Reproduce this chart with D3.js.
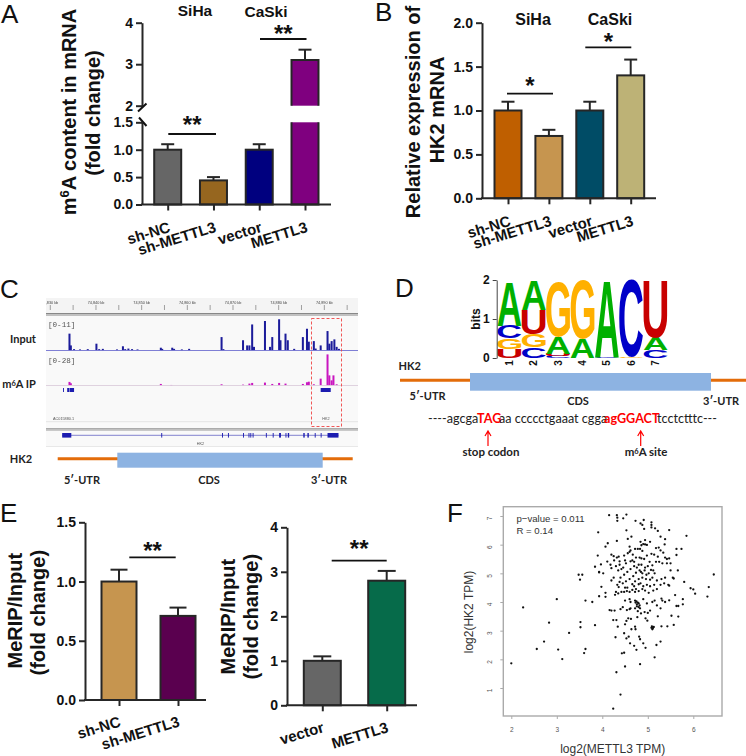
<!DOCTYPE html>
<html><head><meta charset="utf-8">
<style>html,body{margin:0;padding:0;background:#fff}svg{display:block}</style>
<script src="https://cdn.jsdelivr.net/npm/d3@7"></script></head><body>
<svg id="c" width="746" height="756"></svg>
<script>
// ---- bar data ----
const catsSiCa=["sh-NC","sh-METTL3","vector","METTL3"];
const valuesA=[1.0,0.44,1.0,3.1], errorsA=[1.1,0.5,1.1,3.35];
const colorsA=["#666666","#96661f","#00007f","#7f007f"];
const valuesB=[1.0,0.71,1.0,1.4], errorsB=[1.1,0.78,1.1,1.58];
const colorsB=["#bf5f00","#c6954f","#004c66","#bdb276"];
const catsE1=["sh-NC","sh-METTL3"], valuesE1=[1.0,0.71], errorsE1=[1.1,0.78], colorsE1=["#c6954f","#5a004f"];
const catsE2=["vector","METTL3"], valuesE2=[1.0,2.8], errorsE2=[1.1,3.02], colorsE2=["#666666","#066b4a"];
// ---- IGV tracks: kb offset from 74,830 kb, signal value ----
const rulerKb=[74840,74850,74860,74870,74880,74890];
const inputPos=[4.2,4.5,5.2,6.5,8.2,10.1,10.7,11.5,14.6,15.9,16.4,17.1,17.9,19.1,24.2,24.5,26.7,27.1,28.8,30.4,37.5,37.9,42.2,43.1,43.6,44.2,44.6,47,48.1,48.6,50.1,50.4,51.5,52,53.4,55.3,56.2,56.6,57.7,58.1,59.2,60.7,61.1,61.6,62.2,62.7,63.2];
const inputVal=[5.8,1.7,.4,.3,.4,2.3,.4,.5,.3,1.4,.4,.6,.4,.3,.9,.5,.9,.5,.3,.5,4.6,.4,3.5,1.7,1.7,9,1.2,10.2,1.2,4.6,10.8,3.5,5.8,3.5,.5,4.6,7.5,3,3.2,.6,1.7,6.7,2.3,3.2,3.8,1.2,.5];
const ipPos=[4.2,4.5,24.2,26.5,37.5,42.2,43.6,44.2,47,48.6,50.1,51.5,55.3,56.2,56.6,57.7,59.2,60.7,61.1,61.6,62,62.7];
const ipVal=[3,1.8,1.2,.3,.9,.6,1.5,2.1,2.4,1.2,2.1,1.5,1.2,2.7,3.2,.9,5.9,27.4,8.8,4.4,8.8,.9];
const peakBlockStart=[2.8,3.7,4.2,59.2], peakBlockEnd=[3,4.1,5.2,61.4];
const exonStart=[2.6,24.3,37.6,38.9,42.2,43.4,43.8,44.3,47.2,48.7,50.1,51.5,52,55.4,56.3,57.9,59.2,60.7];
const exonEnd=[4.6,24.5,37.8,39.1,42.4,43.6,44,44.5,47.4,48.9,50.5,51.7,52.3,55.7,56.6,58.1,59.4,63.1];
// ---- sequence logo, bottom to top, bits ----
const logoLetters=[["U","G","C","A"],["C","G","U","A"],["C","U","A","G"],["A","G"],["C","A"],["G","C"],["C","A","U"]];
const logoBits=[[.22,.28,.32,1.14],[.27,.34,.62,.75],[.06,.05,.43,1.43],[.48,1.52],[.02,1.98],[.02,1.98],[.2,.33,1.45]];
const logoColors={A:"#00b000",C:"#0000c8",G:"#ffb000",U:"#c80000"};
// ---- scatter, panel F ----
const scatterX=[2,2.26,2.56,2.72,2.83,3,3.03,3.12,3.27,3.48,3.51,3.56,3.52,3.52,3.6,3.63,3.63,3.78,3.84,3.84,3.9,3.91,3.93,3.93,3.97,3.98,3.93,4.07,4.12,4.07,4.07,4.02,4.15,4.32,4.33,4.33,4.46,4.53,4.73,4.84,4.88,4.91,5.08,5.08,5.08,4.92,4.53,5.47,5.16,5.22,5.28,5.85,4.64,4.56,4.32,4.84,4.94,5.38,5.37,5.05,4.6,4.94,4.98,5.63,5.74,5.63,5.94,6,6.04,6.34,6.31,6.45,5.8,5.77,5.77,5.63,5.67,5.67,5.6,5.47,5.57,5.43,5.3,5.52,5.28,5.19,5.15,4.83,4.31,4.5,4.4,4.24,4.43,4.48,4.75,4.95,4.7,4.61,4.9,4.81,4.83,4.53,4.58,4.29,4.48,4.64,4.72,4.73,4.5,4.34,4.24,4.31,4.53,4.57,4.63,4.77,4.95,4.99,5.08,5.1,5.12,5.09,5.11,5.13,4.2,4.25,4.32,4.36,4.11,4.18,4.2,4.26,4.3,4.38,4.35,4.42,4.46,4.5,4.52,4.56,4.6,4.62,4.67,4.72,4.78,4.83,4.88,4.62,4.66,4.7,4.74,4.82,4.86,4.92,4.98,5.08,5.14,5.22,5.18,5.24,5.28,5.34,5.38,5.42,5.47,5.5,5.42,5.32,5.25,5.18,5.1,5.04,5,4.94,4.86,4.8,4.76,4.7,4.62,4.55,4.48,4.4,4.25,4.2,4.38,4.45,4.52,4.6,4.68,4.74,4.82,4.85,4.88,4.93,4.97,5.02,5.07,5.12,5.15,5.1,5.05,4.96,4.88,4.8,4.72,4.66,4.7,4.74,4.66,4.72,4.8,4.84,4.9,4.98,5.05,5.14,5.2,5.3,5.38,5.28,5.36,5.45,5.55,5.57,5.66,5.5,5.2,5.12,5.02,4.94,4.88,4.8,4.6,4.54,4.48,4.42,4.35,4.3,4.28,4.36,4.33,4.5,4.55,4.6,4.62,4.5,4.72,4.75,4.78,4.73,4.76,4.8,4.82,4.76,4.8,4.83,4.9,4.98,5.1,5.15,5.2,5.28,5.3,5.32,5.38,5.47,5.22,5.05,5,4.93,4.85,4.78,4.72,4.62,4.6,4.54,4.45,4.4,4.27,4.2,4.16,4.48,4.38,4.86,4.9];
const scatterY=[1.86,3.81,2.36,2.62,3.28,4.1,2.34,2.01,2.92,4.95,4.78,4.95,3.12,3.3,2.22,2.36,4.05,4,3.19,5.23,5.62,6.43,5.03,4.2,5.31,4.53,5.05,5.93,6.05,4.32,4.18,5,7.03,7.03,6.94,6.83,6.92,7.05,6.83,6.74,6.69,6.86,6.78,6.69,6.6,6.55,6.5,6.51,6.57,6.48,6.28,6.31,6.28,6.2,6.13,6.1,6.16,6.19,6.01,6.1,5.93,6.01,5.99,5.85,5.85,5.64,4.48,4.44,4.29,4.52,4.19,4.96,4.7,4.1,3.92,3.86,3.86,3.49,4.24,4.57,3.2,3.15,3.15,3.52,2.62,2.5,2.07,1.83,1.55,1.75,.77,.28,2.21,2.23,2.33,2.4,2.47,2.56,2.56,2.79,2.7,2.73,2.79,2.77,2.91,3.05,3.14,3.05,3.22,3.14,3.37,3.37,3.34,3.43,3.41,3.47,3.43,3.35,3.1,3.05,3.12,3.15,3.08,3.13,5.65,5.6,5.55,5.58,5.41,5.3,5.18,5.45,5.25,5.3,5.1,5.15,5.2,5.45,5.35,5.7,5.75,5.8,5.65,5.85,5.85,5.85,5.78,5.42,5.45,5.4,5.55,5.55,5.52,5.5,5.62,5.68,5.65,5.58,5.88,5.9,5.8,5.72,5.55,5.5,5.52,5.35,5.35,5.35,5.4,5.4,5.28,5.4,5.25,5.2,5.3,5.3,5.2,5.25,5.15,5.05,4.95,4.85,4.85,4.75,4.7,4.65,4.72,4.8,4.9,5.02,5.1,5.05,5,5.1,4.95,5,5.12,5.1,5,4.85,4.78,4.8,4.85,4.8,4.72,4.62,4.55,4.45,4.42,4.35,4.62,4.65,4.55,4.6,4.55,4.6,4.75,4.8,4.85,4.6,4.65,4.6,4.85,4.82,5.1,5.1,4.45,4.4,4.32,4.4,4.45,4.38,4.35,4.38,4.35,4.35,4.3,4.35,4.25,4.52,4.6,4.5,4.5,4.1,4,4.05,4.05,4.02,3.98,3.98,3.92,3.95,3.88,3.85,3.82,3.78,4.1,3.95,4,4.05,3.88,3.78,4.12,4.05,4,4.06,3.5,3.7,3.62,3.65,3.6,3.68,3.78,3.78,3.75,3.72,3.82,3.75,3.7,3.7,3.72,5.62,5.42,5.98,6.02];
const xTicksF=[2,3,4,5,6], yTicksF=[1,2,3,4,5,6,7];

const svg=d3.select("#c");
const SANS="'Liberation Sans',Arial,sans-serif", CAL="Lato,'Open Sans',sans-serif";
const INK="#262626";

function label(s,x,y,size,anchor="middle",weight="bold",font=SANS,fill="#111"){
  return s.append("text").attr("x",x).attr("y",y).attr("font-size",size).attr("font-weight",weight)
   .attr("font-family",font).attr("text-anchor",anchor).attr("fill",fill);
}
function rotTitle(x,y,parts,size=20){
  const t=svg.append("text").attr("transform",`translate(${x},${y}) rotate(-90)`).attr("text-anchor","middle")
    .attr("font-family",SANS).attr("font-weight","bold").attr("font-size",size).attr("fill","#111");
  parts.forEach(p=>{const s=t.append("tspan").text(p.t);
    if(p.sup)s.attr("dy",-7).attr("font-size",size*.65); if(p.down)s.attr("dy",7);});
}
function styleAxis(g,fs){
  g.selectAll("path,line").attr("stroke",INK).attr("stroke-width",2);
  g.selectAll("text").attr("font-family",SANS).attr("font-weight","bold").attr("font-size",fs).attr("fill","#111");
}
function xAxis(cats,ticks,xEnd,y0,axisX,labelAngle,fs,dy){
  const x=d3.scalePoint().domain(cats).range([ticks[0],ticks[ticks.length-1]]);
  const g=svg.append("g").attr("transform",`translate(0,${y0})`);
  g.call(d3.axisBottom(x).tickSize(6).tickSizeOuter(0));
  g.select(".domain").attr("d",`M${axisX},0H${xEnd}`);
  styleAxis(g,fs);
  g.selectAll(".tick text").attr("text-anchor","end").attr("dy",0).attr("y",0)
    .attr("transform",`translate(${dy[0]},${dy[1]}) rotate(${labelAngle})`);
  return x;
}
function bars(x,cats,vals,errs,cols,y,bw,cap,y0){
  cats.forEach((c,i)=>{
    const cx=x(c), top=y(vals[i]), e=y(errs[i]);
    svg.append("line").attr("x1",cx).attr("x2",cx).attr("y1",top).attr("y2",e).attr("stroke",INK).attr("stroke-width",2);
    svg.append("line").attr("x1",cx-cap/2).attr("x2",cx+cap/2).attr("y1",e).attr("y2",e).attr("stroke",INK).attr("stroke-width",2);
    svg.append("rect").attr("x",cx-bw/2).attr("width",bw).attr("y",top).attr("height",y0-top)
      .attr("fill",cols[i]).attr("stroke",INK).attr("stroke-width",2);
  });
}
function sig(x1,x2,yy,stars,sy){
  svg.append("line").attr("x1",x1).attr("x2",x2).attr("y1",yy).attr("y2",yy).attr("stroke","#111").attr("stroke-width",1.8);
  label(svg,(x1+x2)/2,sy,24).text(stars);
}

// ---------- Panel A ----------
{
 const y0=204.5, low=d3.scaleLinear().domain([0,1.5]).range([y0,122.3]), up=d3.scaleLinear().domain([2,4]).range([105.7,22.7]);
 const x=d3.scalePoint().domain(catsSiCa).range([167.7,305]);
 const bw=27,cap=13;
 catsSiCa.forEach((c,i)=>{
  const v=valuesA[i],cx=x(c);
  const yt=v>2?up(v):low(v), ye=errorsA[i]>2?up(errorsA[i]):low(errorsA[i]);
  svg.append("line").attr("x1",cx).attr("x2",cx).attr("y1",yt).attr("y2",ye).attr("stroke",INK).attr("stroke-width",2);
  svg.append("line").attr("x1",cx-cap/2).attr("x2",cx+cap/2).attr("y1",ye).attr("y2",ye).attr("stroke",INK).attr("stroke-width",2);
  if(v<=2){
   svg.append("rect").attr("x",cx-bw/2).attr("width",bw).attr("y",yt).attr("height",y0-yt).attr("fill",colorsA[i]).attr("stroke",INK).attr("stroke-width",2);
  }else{
   const a=up(2),b=low(1.5);
   svg.append("rect").attr("x",cx-bw/2).attr("width",bw).attr("y",yt).attr("height",a-yt).attr("fill",colorsA[i]);
   svg.append("rect").attr("x",cx-bw/2).attr("width",bw).attr("y",b).attr("height",y0-b).attr("fill",colorsA[i]);
   svg.append("path").attr("d",`M${cx-bw/2},${a}V${yt}H${cx+bw/2}V${a}M${cx-bw/2},${b}V${y0}H${cx+bw/2}V${b}`).attr("fill","none").attr("stroke",INK).attr("stroke-width",2);
  }
 });
 const ax=142;
 const g1=svg.append("g").attr("transform",`translate(${ax},0)`).call(d3.axisLeft(low).tickValues([0,.5,1,1.5]).tickFormat(d3.format(".1f")).tickSize(6).tickSizeOuter(0));
 styleAxis(g1,14);
 const g2=svg.append("g").attr("transform",`translate(${ax},0)`).call(d3.axisLeft(up).tickValues([2,3,4]).tickFormat(d3.format("d")).tickSize(6).tickSizeOuter(0));
 styleAxis(g2,14);
 svg.append("path").attr("d",`M138,111.5L146.5,103.5M139,117.5L146.5,126`).attr("fill","none").attr("stroke","#111").attr("stroke-width",2);
 xAxis(catsSiCa,[167.7,213.3,259,305],331,y0,ax-1,-17,15,[3,27]);
 sig(168.3,216,134,"**",133);
 sig(260,306.5,39,"**",42);
 label(svg,195,15.5,15.5).text("SiHa");
 label(svg,266,16.5,15.5).text("CaSki");
 rotTitle(76,112,[{t:"m"},{t:"6",sup:1},{t:"A content in mRNA",down:1}]);
 rotTitle(100,113,[{t:"(fold change)"}]);
}
// ---------- Panel B ----------
{
 const y0=198.3,y=d3.scaleLinear().domain([0,2]).range([y0,22.7]);
 const ticks=[508,549,589.7,630.7];
 const x=d3.scalePoint().domain(catsSiCa).range([508,630.7]);
 bars(x,catsSiCa,valuesB,errorsB,colorsB,y,27,13,y0);
 const g=svg.append("g").attr("transform","translate(482,0)").call(d3.axisLeft(y).tickValues([0,.5,1,1.5,2]).tickFormat(d3.format(".1f")).tickSize(6).tickSizeOuter(0));
 styleAxis(g,14);
 xAxis(catsSiCa,ticks,656,y0,481,-17,15,[3,27]);
 sig(507,553,93.7,"*",94);
 sig(585.3,631.3,47.3,"*",50);
 label(svg,533,25,16).text("SiHa");
 label(svg,610,25,16).text("CaSki");
 rotTitle(419.7,112,[{t:"Relative expression of"}]);
 rotTitle(443.7,110,[{t:"HK2 mRNA"}]);
}
// ---------- Panel E ----------
{
 const y0=700,y=d3.scaleLinear().domain([0,1.5]).range([y0,522.3]);
 const x=d3.scalePoint().domain(catsE1).range([119,178]);
 bars(x,catsE1,valuesE1,errorsE1,colorsE1,y,35,17,y0);
 const g=svg.append("g").attr("transform","translate(85,0)").call(d3.axisLeft(y).tickValues([0,.5,1,1.5]).tickFormat(d3.format(".1f")).tickSize(6).tickSizeOuter(0));
 styleAxis(g,14);
 xAxis(catsE1,[119,178],206,y0,84,-17,15,[2,26]);
 sig(129.3,175.7,557.3,"**",559);
 rotTitle(21.7,610.7,[{t:"MeRIP/Input"}]);
 rotTitle(45,612.7,[{t:"(fold change)"}]);
}
{
 const y0=705.3,y=d3.scaleLinear().domain([0,4]).range([y0,527.3]);
 const x=d3.scalePoint().domain(catsE2).range([322.3,386.7]);
 bars(x,catsE2,valuesE2,errorsE2,colorsE2,y,37,18,y0);
 const g=svg.append("g").attr("transform","translate(287,0)").call(d3.axisLeft(y).tickValues([0,1,2,3,4]).tickFormat(d3.format("d")).tickSize(6).tickSizeOuter(0));
 styleAxis(g,14);
 xAxis(catsE2,[322.3,386.7],417,y0,286,-17,15,[2,26.4]);
 sig(331.7,386.7,560.7,"**",557);
 rotTitle(235,616.7,[{t:"MeRIP/Input"}]);
 rotTitle(258.3,616.7,[{t:"(fold change)"}]);
}
// ---------- Panel letters ----------
[["A",1,23],["B",375,21],["C",0,298],["D",395,297],["E",0,522],["F",447,522]].forEach(([t,x,y])=>
  label(svg,x,y,26,"start","normal",SANS).text(t));

// ---------- Panel C ----------
{
 const blur=svg.append("defs").append("filter").attr("id","soft").attr("x",0).attr("y",0).attr("width",1).attr("height",1);
 blur.append("feGaussianBlur").attr("stdDeviation",.35);
 const g=svg.append("g").attr("filter","url(#soft)");
 const kb=d3.scaleLinear().domain([0,70]).range([50.3,370]);
 const px=d3.scaleLinear().domain([74830,74900]).range([50.3,370]);
 const L=46,R=358;
 g.append("rect").attr("x",L).attr("y",298).attr("width",R-L).attr("height",149).attr("fill","#f9f9f9");
 g.append("rect").attr("x",L).attr("y",298).attr("width",R-L).attr("height",15).attr("fill","#f4f4f4");
 d3.range(74830,74900,5).filter(v=>px(v)<R).forEach(v=>g.append("line").attr("x1",px(v)).attr("x2",px(v)).attr("y1",305).attr("y2",310).attr("stroke","#666").attr("stroke-width",.6));
 rulerKb.forEach(v=>g.append("text").attr("x",px(v)).attr("y",304).attr("text-anchor","middle").attr("font-family",SANS).attr("font-size",3.8).attr("fill","#444").text(d3.format(",")(v)+" kb"));
 g.append("text").attr("x",52).attr("y",304).attr("text-anchor","middle").attr("font-family",SANS).attr("font-size",3.8).attr("fill","#444").text(",830 kb");
 [313.5,315].forEach(yy=>g.append("line").attr("x1",L).attr("x2",R).attr("y1",yy).attr("y2",yy).attr("stroke","#888").attr("stroke-width",1));
 [428.7,430].forEach(yy=>g.append("line").attr("x1",L).attr("x2",R).attr("y1",yy).attr("y2",yy).attr("stroke","#999").attr("stroke-width",1));
 [421.7,446.7].forEach(yy=>g.append("line").attr("x1",L).attr("x2",R).attr("y1",yy).attr("y2",yy).attr("stroke","#ddd").attr("stroke-width",.8));
 const yIn=d3.scaleLinear().domain([0,11]).range([350.3,318.7]);
 const yIp=d3.scaleLinear().domain([0,28]).range([385.3,353.7]);
 inputPos.forEach((p,i)=>g.append("rect").attr("x",kb(p)-1).attr("width",2).attr("y",yIn(inputVal[i])).attr("height",350.3-yIn(inputVal[i])).attr("fill","#1a1a9a"));
 g.append("line").attr("x1",L).attr("x2",R).attr("y1",350.5).attr("y2",350.5).attr("stroke","#7070d0").attr("stroke-width",.9);
 ipPos.forEach((p,i)=>g.append("rect").attr("x",kb(p)-1).attr("width",2).attr("y",yIp(ipVal[i])).attr("height",385.3-yIp(ipVal[i])).attr("fill","#c918c0"));
 g.append("line").attr("x1",L).attr("x2",R).attr("y1",385.5).attr("y2",385.5).attr("stroke","#d8c8d8").attr("stroke-width",.8);
 peakBlockStart.forEach((s,i)=>g.append("rect").attr("x",kb(s)).attr("width",kb(peakBlockEnd[i])-kb(s)).attr("y",388).attr("height",4).attr("fill","#1a1ab0"));
 g.append("line").attr("x1",kb(2.6)).attr("x2",kb(63.1)).attr("y1",435.3).attr("y2",435.3).attr("stroke","#3030b0").attr("stroke-width",.6);
 exonStart.forEach((s,i)=>g.append("rect").attr("x",kb(s)).attr("width",Math.max(.8,kb(exonEnd[i])-kb(s))).attr("y",433).attr("height",4.6).attr("fill","#1a1ab0"));
 g.append("text").attr("y",420).attr("font-family",SANS).attr("font-size",3.8).attr("fill","#555").attr("x",53).text("AC015880.1");
 g.append("text").attr("x",326).attr("y",420).attr("text-anchor","middle").attr("font-family",SANS).attr("font-size",3.8).attr("fill","#555").text("HK2");
 g.append("text").attr("x",200.5).attr("y",445).attr("text-anchor","middle").attr("font-family",SANS).attr("font-size",3.8).attr("fill","#555").text("HK2");
 g.append("text").attr("x",48).attr("y",327).attr("font-family","'Liberation Mono',monospace").attr("font-size",7.6).attr("fill","#555").text("[0-11]");
 g.append("text").attr("x",48).attr("y",363).attr("font-family","'Liberation Mono',monospace").attr("font-size",7.6).attr("fill","#555").text("[0-28]");
 svg.append("rect").attr("x",311.5).attr("y",318.5).attr("width",30).attr("height",108).attr("fill","none").attr("stroke","#ee4444").attr("stroke-width",.9).attr("stroke-dasharray","3,2");
 label(svg,23,342.5,11,"middle","bold",CAL,"#222").text("Input");
 const m=label(svg,19,388,11,"middle","bold",CAL,"#222");
 m.append("tspan").text("m"); m.append("tspan").text("6").attr("dy",-2).attr("font-size",7.5); m.append("tspan").text("A IP").attr("dy",2);
 label(svg,21,462.5,11,"middle","bold",CAL,"#222").text("HK2");
 svg.append("line").attr("x1",57.7).attr("x2",352.7).attr("y1",458.7).attr("y2",458.7).attr("stroke","#e36c0a").attr("stroke-width",3);
 svg.append("rect").attr("x",117.3).attr("y",452.7).attr("width",205.4).attr("height",15).attr("fill","#8db3e2");
 label(svg,82,484,11,"middle","bold",CAL,"#222").text("5′-UTR");
 label(svg,209,484,11,"middle","bold",CAL,"#222").text("CDS");
 label(svg,329,484,11,"middle","bold",CAL,"#222").text("3′-UTR");
}
// ---------- Panel D ----------
{
 const y=d3.scaleLinear().domain([0,2]).range([358,280]);
 const x=d3.scaleBand().domain(d3.range(1,8)).range([497.5,667.5]).paddingInner(.02);
 const ctx=document.createElement("canvas").getContext("2d");
 ctx.font="bold 100px 'Liberation Sans'";
 logoLetters.forEach((ls,i)=>{
  let acc=0;
  ls.forEach((l,j)=>{
   const b=logoBits[i][j],m=ctx.measureText(l);
   const iw=m.actualBoundingBoxLeft+m.actualBoundingBoxRight, ih=m.actualBoundingBoxAscent+m.actualBoundingBoxDescent;
   const sx=x.bandwidth()/iw, sy=(y(acc)-y(acc+b))/ih;
   svg.append("text").text(l).attr("font-family",SANS).attr("font-weight","bold").attr("font-size",100).attr("fill",logoColors[l])
     .attr("transform",`translate(${x(i+1)+m.actualBoundingBoxLeft*sx},${y(acc)-m.actualBoundingBoxDescent*sy}) scale(${sx},${sy})`);
   acc+=b;
  });
 });
 const g=svg.append("g").attr("transform","translate(496.7,0)").call(d3.axisLeft(y).tickValues([0,1,2]).tickFormat(d3.format("d")).tickSize(4).tickSizeOuter(0));
 g.selectAll("path,line").attr("stroke","#444").attr("stroke-width",1);
 g.selectAll("text").attr("font-family",SANS).attr("font-weight","bold").attr("font-size",12).attr("fill","#111");
 d3.range(1,8).forEach(n=>svg.append("text").text(n).attr("font-family",SANS).attr("font-weight","bold").attr("font-size",10).attr("fill","#111")
   .attr("transform",`translate(${x(n)+x.bandwidth()/2+3.5},363) rotate(-90)`).attr("text-anchor","middle"));
 svg.append("text").text("bits").attr("font-family",SANS).attr("font-weight","bold").attr("font-size",12).attr("fill","#111")
   .attr("text-anchor","middle").attr("transform","translate(480,319) rotate(-90)");
 svg.append("line").attr("x1",400).attr("x2",746).attr("y1",380.3).attr("y2",380.3).attr("stroke","#e36c0a").attr("stroke-width",3);
 svg.append("rect").attr("x",470).attr("y",373).attr("width",241).attr("height",17.7).attr("fill","#8db3e2");
 label(svg,398.5,370,11,"start","bold",CAL,"#222").text("HK2");
 label(svg,409.5,400,11,"start","bold",CAL,"#222").text("5′-UTR");
 label(svg,578,405,11,"middle","bold",CAL,"#222").text("CDS");
 label(svg,703,405,11,"start","bold",CAL,"#222").text("3′-UTR");
 const seq=label(svg,428,423,12.6,"start","normal",CAL,"#222");
 [["----agcga",0,428],["TAG",1,477],["aa ccccctgaaat cgga",0,499],["agGGACT",1,604],["tcctctttc---",0,657]].forEach(([t,red,sx])=>{
  const s=seq.append("tspan").attr("x",sx).text(t); if(red)s.attr("fill","#ff0000").attr("font-weight","bold");
 });
 [[488],[640.7]].forEach(([ax])=>{
  svg.append("path").attr("d",`M${ax},446V431M${ax-3},436L${ax},431L${ax+3},436`).attr("fill","none").attr("stroke","#ff0000").attr("stroke-width",1.2);
 });
 label(svg,491,456,11.5,"middle","bold",CAL,"#222").text("stop codon");
 const ms=label(svg,646,456,11.5,"middle","bold",CAL,"#222");
 ms.append("tspan").text("m"); ms.append("tspan").text("6").attr("dy",-2).attr("font-size",7.5); ms.append("tspan").text("A site").attr("dy",2);
}
// ---------- Panel F ----------
{
 const x=d3.scaleLinear().domain([2,6]).range([511.3,693.3]);
 const y=d3.scaleLinear().domain([1,7]).range([688,516]);
 scatterX.forEach((v,i)=>svg.append("circle").attr("cx",x(v)).attr("cy",y(scatterY[i])).attr("r",1.15).attr("fill","#111"));
 svg.append("rect").attr("x",503.3).attr("y",506.7).attr("width",218.7).attr("height",209.3).attr("fill","none").attr("stroke","#aaa").attr("stroke-width",1.4);
 const gx=svg.append("g").attr("transform","translate(0,716)").call(d3.axisBottom(x).tickValues(xTicksF).tickFormat(d3.format("d")).tickSize(3).tickPadding(8));
 gx.select(".domain").remove();
 gx.selectAll("line").attr("stroke","#aaa");
 gx.selectAll("text").attr("font-family",SANS).attr("font-size",6.5).attr("fill","#555");
 const gy=svg.append("g").attr("transform","translate(503.3,0)").call(d3.axisLeft(y).tickValues(yTicksF).tickFormat(d3.format("d")).tickSize(3));
 gy.select(".domain").remove();
 gy.selectAll("line").attr("stroke","#aaa");
 gy.selectAll("text").attr("font-family",SANS).attr("font-size",6.5).attr("fill","#555").attr("text-anchor","middle").attr("x",0).attr("dy",0)
   .attr("transform","translate(-11,2) rotate(-90)");
 label(svg,516.5,521.7,9.6,"start","normal",SANS,"#333").text("p−value = 0.011");
 label(svg,516.5,533.7,9.6,"start","normal",SANS,"#333").text("R = 0.14");
 label(svg,612.7,752.7,12,"middle","normal",SANS,"#333").text("log2(METTL3 TPM)");
 svg.append("text").text("log2(HK2 TPM)").attr("font-family",SANS).attr("font-size",12).attr("fill","#333")
   .attr("text-anchor","middle").attr("transform","translate(473,612) rotate(-90)");
}
</script></body></html>
